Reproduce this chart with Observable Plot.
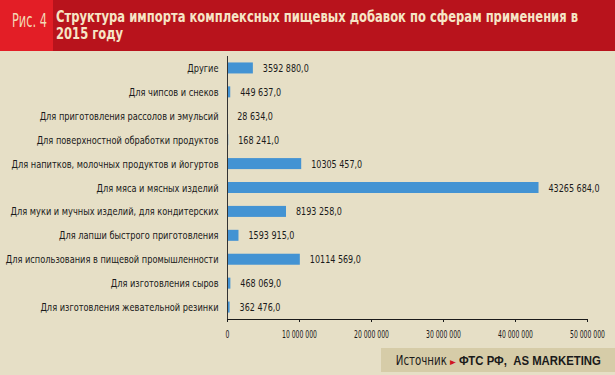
<!DOCTYPE html>
<html><head><meta charset="utf-8">
<script src="https://cdn.jsdelivr.net/npm/d3@7"></script>
<script src="https://cdn.jsdelivr.net/npm/@observablehq/plot@0.6"></script>
<style>
html,body{margin:0;padding:0;}
body{width:615px;height:375px;background:#e6dfc6;position:relative;overflow:hidden;
font-family:"DejaVu Sans Condensed","Liberation Sans",sans-serif;}
#hdr{position:absolute;left:0;top:0;width:615px;height:51px;background:#b8131c;}
#figbox{position:absolute;left:0;top:0;width:53px;height:51px;background:#e31e26;}
#fig{position:absolute;left:12px;top:9px;color:#f3d9b5;font-size:19px;line-height:22px;white-space:nowrap;transform-origin:0 0;}
#ttl{position:absolute;left:56px;top:9px;color:#f6e5c6;font-weight:bold;font-size:15.5px;line-height:17px;white-space:nowrap;transform-origin:0 0;}
#ttl span{display:inline-block;}
#chart{position:absolute;left:0;top:51px;}
#src{position:absolute;left:381px;top:348px;width:234px;height:24px;background:#d6cca8;}
#srct{position:absolute;right:14px;top:0;font-size:13.5px;line-height:24px;color:#1a1a1a;white-space:nowrap;transform-origin:100% 50%;}
#srct b{font-family:"Liberation Sans",sans-serif;font-size:13.5px;}
#srct .ar{color:#d0151f;font-size:10px;}
</style></head>
<body>
<div id="hdr"></div>
<div id="figbox"></div>
<div id="fig">Рис. 4</div>
<div id="ttl"><span id="t1">Структура импорта комплексных пищевых добавок по сферам применения в</span><br><span id="t2">2015 году</span></div>
<div id="chart"></div>
<div id="src"><div id="srct">Источник <span class="ar">&#9658;</span> <b>ФТС РФ,&nbsp; AS MARKETING</b></div></div>
<script>
const categories = [
  "Другие",
  "Для чипсов и снеков",
  "Для приготовления рассолов и эмульсий",
  "Для поверхностной обработки продуктов",
  "Для напитков, молочных продуктов и йогуртов",
  "Для мяса и мясных изделий",
  "Для муки и мучных изделий, для кондитерских",
  "Для лапши быстрого приготовления",
  "Для использования в пищевой промышленности",
  "Для изготовления сыров",
  "Для изготовления жевательной резинки"
];
const values = [3592880, 449637, 28634, 168241, 10305457, 43265684, 8193258, 1593915, 10114569, 468069, 362476];
const xTicks = [0, 10000000, 20000000, 30000000, 40000000, 50000000];

const data = categories.map((c, i) => ({cat: c, v: values[i]}));
const fmtVal = v => {
  const hi = Math.floor(v / 1000), lo = String(v % 1000).padStart(3, "0");
  return (hi > 0 ? hi + " " + lo : String(v)) + ",0";
};
const fmtTick = d => d3.format(",")(d).replace(/,/g, " ");

const plot = Plot.plot({
  width: 615,
  height: 300,
  marginLeft: 227,
  marginRight: 28,
  marginTop: 5,
  marginBottom: 32,
  style: {background: "transparent", fontFamily: '"DejaVu Sans Condensed",sans-serif', fontSize: "11px", color: "#1a1a1a"},
  x: {domain: [0, 50000000], ticks: xTicks, tickFormat: fmtTick, tickSize: 3, tickPadding: 8, label: null, line: true},
  y: {domain: categories, paddingInner: 0.54, paddingOuter: 0.27, round: false, tickSize: 0, tickPadding: 9, label: null},
  marks: [
    Plot.barX(data, {x: "v", y: "cat", fill: "#4393d3"}),
    Plot.ruleX([0], {stroke: "#333", strokeWidth: 1}),
    Plot.text(data, {x: "v", y: "cat", text: d => fmtVal(d.v), dx: 9.5, textAnchor: "start", fill: "#1a1a1a", fontSize: 11})
  ]
});
document.getElementById("chart").appendChild(plot);

// condense text horizontally around its anchor so widths match the narrow reference typeface
function condense(texts, s) {
  texts.forEach(t => {
    const x = +t.getAttribute("x") || 0, y = +t.getAttribute("y") || 0;
    const tr = t.getAttribute("transform") || "";
    t.setAttribute("transform", `${tr} translate(${x},${y}) scale(${s},1) translate(${-x},${-y})`);
  });
}
const yLabels = Array.from(plot.querySelectorAll('g[aria-label="y-axis tick label"] text'));
const xLabels = Array.from(plot.querySelectorAll('g[aria-label="x-axis tick label"] text'));
const vLabels = Array.from(plot.querySelectorAll('g[aria-label="text"] text'));
const maxW = arr => Math.max(...arr.map(t => t.getComputedTextLength()));
if (yLabels.length) condense(yLabels, 213 / maxW(yLabels));
if (xLabels.length) {
  xLabels.forEach(t => t.style.fontSize = "10.5px");
  const w = xLabels.find(t => t.textContent === "10 000 000");
  condense(xLabels, 35 / (w ? w.getComputedTextLength() : maxW(xLabels)));
}
if (vLabels.length) {
  const w = vLabels[0].getComputedTextLength();
  condense(vLabels, 46 / w);
}
// header & source
const t1 = document.getElementById("t1");
const s1 = 522 / t1.getBoundingClientRect().width;
document.getElementById("ttl").style.transform = `scaleX(${s1})`;
const fig = document.getElementById("fig");
fig.style.transform = `scaleX(${35 / fig.getBoundingClientRect().width})`;
const srct = document.getElementById("srct");
srct.style.transform = `scaleX(${205 / srct.getBoundingClientRect().width})`;
</script>
</body></html>
